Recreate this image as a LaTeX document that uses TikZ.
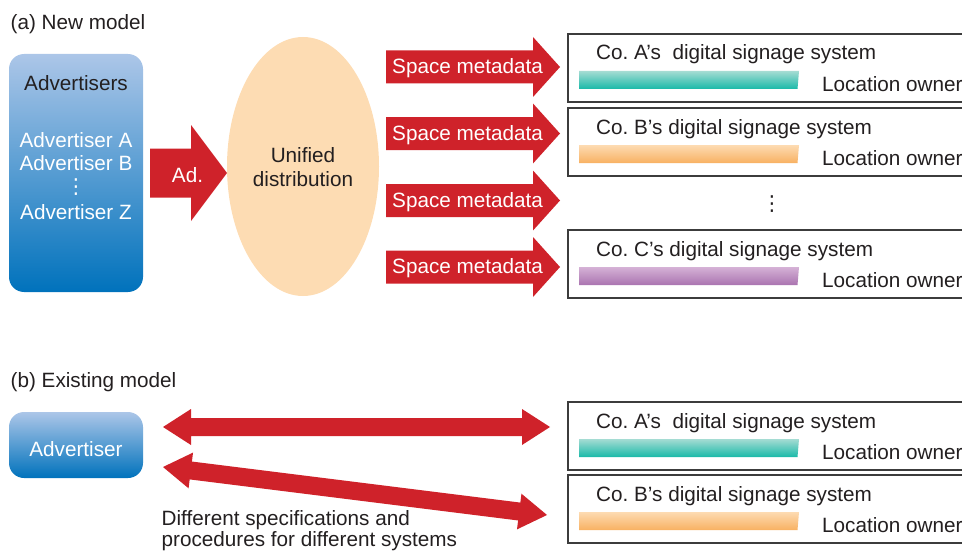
\documentclass[tikz,border=0pt]{standalone}
\usepackage{fontspec}
\setmainfont{Liberation Sans}
\newfontfamily\dejavu{DejaVu Sans}
\usetikzlibrary{calc,shapes.geometric}
\definecolor{arrowred}{RGB}{207,34,42}
\definecolor{ink}{RGB}{35,31,32}
\definecolor{boxgray}{RGB}{60,60,60}
\definecolor{peach}{RGB}{253,220,179}
\definecolor{advtop}{RGB}{172,198,232}
\definecolor{advbot}{RGB}{0,114,188}
\definecolor{tealtop}{RGB}{165,220,211}
\definecolor{tealbot}{RGB}{24,185,168}
\definecolor{orgtop}{RGB}{253,219,178}
\definecolor{orgbot}{RGB}{248,177,98}
\definecolor{purtop}{RGB}{213,178,214}
\definecolor{purbot}{RGB}{170,115,176}
% single block arrow: tail #1, tip #2, shaft half-width #3, head half-width #4, head length #5
\newcommand{\blockarrow}[5]{%
  \fill[arrowred] ($(#1)!#3!90:(#2)$) -- ($(#2)!#5!(#1)!#3!-90:(#1)$)
    -- ($(#2)!#5!(#1)!#4!-90:(#1)$) -- (#2) -- ($(#2)!#5!(#1)!#4!90:(#1)$)
    -- ($(#2)!#5!(#1)!#3!90:(#1)$) -- ($(#1)!#3!-90:(#2)$) -- cycle;}
% double block arrow between #1 and #2
\newcommand{\dblarrow}[5]{%
  \fill[arrowred] (#1) -- ($(#1)!#5!(#2)!#4!90:(#2)$) -- ($(#1)!#5!(#2)!#3!90:(#2)$)
    -- ($(#2)!#5!(#1)!#3!-90:(#1)$) -- ($(#2)!#5!(#1)!#4!-90:(#1)$) -- (#2)
    -- ($(#2)!#5!(#1)!#4!90:(#1)$) -- ($(#2)!#5!(#1)!#3!90:(#1)$)
    -- ($(#1)!#5!(#2)!#3!-90:(#2)$) -- ($(#1)!#5!(#2)!#4!-90:(#2)$) -- cycle;}
% system box: name, top y, label, bar top colour, bar bottom colour
\newcommand{\sysbox}[5]{%
  \node[sysframe, anchor=north west] (#1) at (567,#2) {};
  \node[txt, anchor=base west] (#1-t) at ($(#1.north west)+(29,27)$) {#3};
  \shade[top color=#4, bottom color=#5] ($(#1.north west)+(12,38)$) -- ++(220,0) -- ++(-1.5,18) -- ++(-218.5,0) -- cycle;
  \node[txt, anchor=base west] (#1-o) at ($(#1.north west)+(255,58.5)$) {Location owner};}
\begin{document}
\begin{tikzpicture}[x=1pt,y=-1pt,
  txt/.style={font=\fontsize{20.7}{24}\selectfont, text=ink, inner sep=0pt},
  wtxt/.style={txt, text=white},
  dotsym/.style={font=\dejavu\fontsize{20.7}{24}\selectfont, inner sep=0pt},
  advbox/.style={rounded corners=15pt, top color=advtop, bottom color=advbot, draw=none, inner sep=0pt},
  sysframe/.style={draw=boxgray, line width=1.6pt, fill=white, minimum width=410pt, minimum height=68pt, inner sep=0pt}]
\useasboundingbox (0,0) rectangle (962,551);
\clip (0,0) rectangle (962,551);

% ---------- (a) New model ----------
\node[txt, anchor=base west] (ta) at (10.5,30) {(a) New model};

\node[advbox, minimum width=134pt, minimum height=238pt] (advs) at (76,173) {};
\node[txt, anchor=base] (advt) at (76,91) {Advertisers};
\node[wtxt, anchor=base] (advA) at (76,147) {Advertiser A};
\node[wtxt, anchor=base] (advB) at (76,170) {Advertiser B};
\node[dotsym, text=white] (advd) at (76,187.5) {⋮};
\node[wtxt, anchor=base] (advZ) at (76,219) {Advertiser Z};

\node[ellipse, fill=peach, minimum width=152pt, minimum height=259pt, inner sep=0pt] (ud) at (303,166.5) {};
\node[txt, anchor=base] (ud1) at (303,162) {Unified};
\node[txt, anchor=base] (ud2) at (303,186) {distribution};

\coordinate (adT) at (150,173);
\coordinate (adH) at (227,173);
\blockarrow{adT}{adH}{24.5pt}{48pt}{36pt}
\node[wtxt, anchor=base] (adl) at (187.5,182) {Ad.};

\foreach \i/\y in {1/67,2/133.5,3/200.5,4/267}{
  \coordinate (smT\i) at (386,\y);
  \coordinate (smH\i) at (560,\y);
  \blockarrow{smT\i}{smH\i}{16.5pt}{30pt}{27pt}
  \node[wtxt, anchor=base west] (sml\i) at (392,\y+6.5) {Space metadata};
}

\sysbox{sa}{33}{Co.\ A’s\ \ digital signage system}{tealtop}{tealbot}
\sysbox{sb}{107}{Co.\ B’s digital signage system}{orgtop}{orgbot}
\node[dotsym, text=ink] (sdots) at (772,204) {⋮};
\sysbox{sc}{229}{Co.\ C’s digital signage system}{purtop}{purbot}

% ---------- (b) Existing model ----------
\node[txt, anchor=base west] (tb) at (10.5,387) {(b) Existing model};
\node[advbox, minimum width=134pt, minimum height=66pt] (adv) at (76,445) {};
\node[wtxt, anchor=base] (advl) at (76,456) {Advertiser};

\sysbox{ea}{401}{Co.\ A’s\ \ digital signage system}{tealtop}{tealbot}
\sysbox{eb}{474}{Co.\ B’s digital signage system}{orgtop}{orgbot}

\coordinate (e1L) at (163,427);
\coordinate (e1R) at (550,427);
\coordinate (e2L) at (163,467);
\coordinate (e2R) at (547,515);
\dblarrow{e1L}{e1R}{9pt}{18pt}{28pt}
\dblarrow{e2L}{e2R}{9pt}{18pt}{28pt}

\node[txt, anchor=base west] (diff1) at (161.5,525.5) {Different specifications and};
\node[txt, anchor=base west] (diff2) at (161.5,546.5) {procedures for different systems};
\end{tikzpicture}
\end{document}
